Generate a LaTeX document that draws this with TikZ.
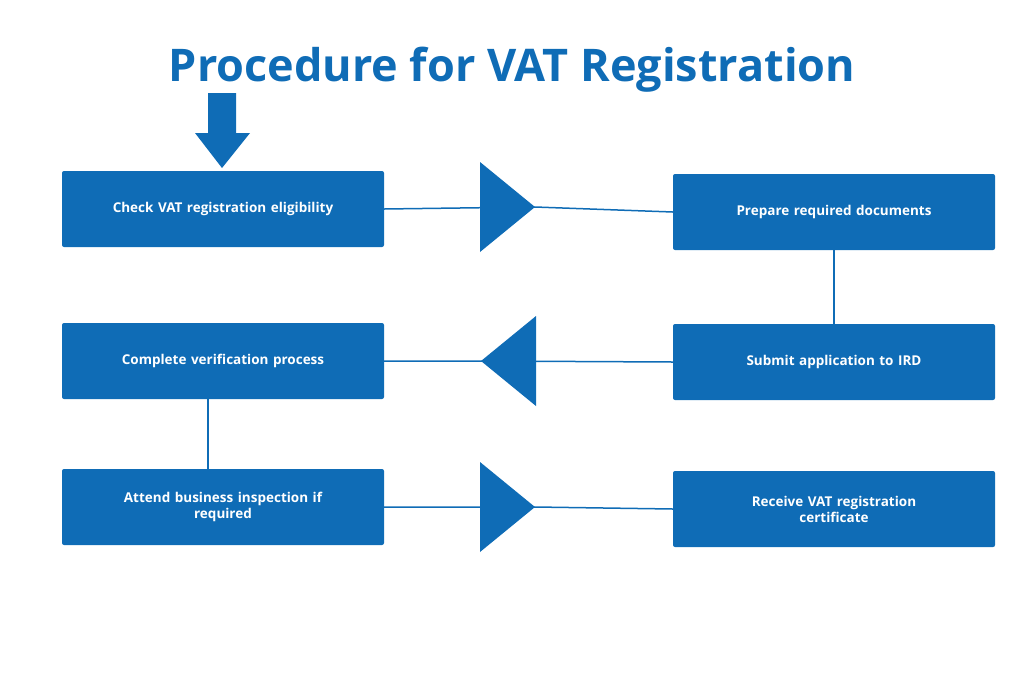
\documentclass[tikz,border=0pt]{standalone}
\usepackage{fontspec}
\setmainfont{Open Sans}
\definecolor{vb}{HTML}{0F6CB6}
\begin{document}
\begin{tikzpicture}[x=1pt,y=-1pt,
 box/.style={fill=vb,rounded corners=2pt,minimum width=322pt,minimum height=76pt,text=white,font=\bfseries\fontsize{13.5}{16}\selectfont,align=center,text width=300pt,inner sep=0pt},
 ln/.style={draw=vb,line width=1.5pt},
 tri/.style={fill=vb}]
\useasboundingbox (0,0) rectangle (1024,683);
\node[text=vb,font=\bfseries\fontsize{45}{50}\selectfont] (title) at (512,70) {Procedure for VAT Registration};
\node[box] (b1) at (223,209) {Check VAT registration eligibility};
\node[box] (b2) at (834,212) {Prepare required documents};
\node[box] (b3) at (834,362) {Submit application to IRD};
\node[box] (b4) at (223,361) {Complete verification process};
\node[box] (b5) at (223,507) {Attend business inspection if\\required};
\node[box] (b6) at (834,509) {Receive VAT registration\\certificate};
\coordinate (t1) at (535,207);
\coordinate (t2) at (481,361);
\coordinate (t3) at (535,507);
\draw[ln] (b1.east) -- (t1) -- (b2.west);
\draw[ln] (b3.west) -- (t2) -- (b4.east);
\draw[ln] (b5.east) -- (t3) -- (b6.west);
\draw[ln] (b2.south) -- (b3.north);
\draw[ln] (b4.south -| 208,0) -- (b5.north -| 208,0);
\fill[tri] (480,162) -- (t1) -- (480,252) -- cycle;
\fill[tri] (536,316) -- (t2) -- (536,406) -- cycle;
\fill[tri] (480,462) -- (t3) -- (480,552) -- cycle;
\coordinate (arr) at (222,168);
\fill[vb] (208,93) -- (236,93) -- (236,133) -- (250,133) -- (arr) -- (195,133) -- (208,133) -- cycle;
\end{tikzpicture}
\end{document}
